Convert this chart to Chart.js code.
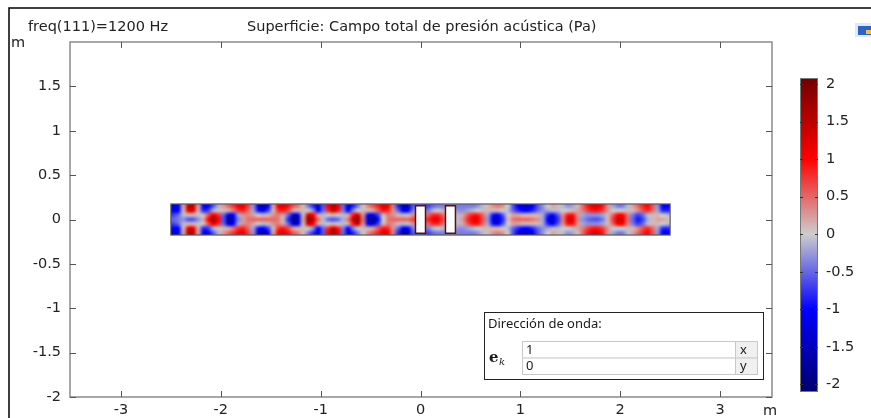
<!DOCTYPE html>
<html><head><meta charset="utf-8">
<script src="https://cdn.jsdelivr.net/npm/chart.js@4.4.1/dist/chart.umd.min.js"></script>
<style>html,body{margin:0;padding:0;background:#fff;overflow:hidden}</style>
</head><body>
<canvas id="c" width="871" height="418"></canvas>
<script>
// ---- data ----
const titleLeft = 'freq(111)=1200 Hz';
const titleMain = 'Superficie: Campo total de presión acústica (Pa)';
const xTicks = [-3, -2, -1, 0, 1, 2, 3];
const yTicks = [-2, -1.5, -1, -0.5, 0, 0.5, 1, 1.5];
const cbTicks = [-2, -1.5, -1, -0.5, 0, 0.5, 1, 1.5, 2];
const cbRange = [-2.1, 2.08];
const stripX = [-2.5, 2.5];
const stripY = [-0.175, 0.175];
const obstacleX = [[-0.05, 0.05], [0.25, 0.35]];
const obstacleY = [-0.155, 0.155];
const waveDirLabel = 'Dirección de onda:';
const waveDirValues = ['1', '0'];
const waveDirComps = ['x', 'y'];

// pressure (Pa) in 100 columns along the duct (x = -2.5 .. 2.5 m), rows from wall to centre
const rowEdge = [-1.3,-1.2,0.2,1.5,1.5,0.2,-1.0,-1.1,-0.6,-0.15,
 0.25,0.5,0.75,1.05,1.15,0.7,-0.3,-1.25,-1.6,-1.0,
 0.2,1.05,1.2,0.95,0.6,0.4,0.1,-0.4,-0.8,-1.3,
 -0.6,1.0,1.7,1.1,-0.5,-1.3,-0.85,-0.4,0.05,0.35,
 0.6,0.85,1.2,1.1,0.4,-0.8,-1.55,-1.5,-0.6,-0.5,
 -0.6,-0.7,-0.5,-0.4,-0.4,-0.3,-0.3,-0.4,-0.4,-0.4,
 -0.4,-0.3,-0.1,0.1,0.3,0.4,0.3,0.0,-0.6,-1.0,
 -1.3,-1.3,-1.0,-0.6,-0.3,0.0,0.2,0.1,-0.1,-0.3,
 -0.2,0.1,0.5,0.9,1.2,1.2,0.9,0.3,-0.2,-0.4,
 -0.4,-0.1,0.2,0.5,0.8,1.0,0.6,-0.3,-1.0,-1.0];
const rowNear = [-1.1,-1.0,0.1,1.2,1.2,0.15,-0.8,-0.7,-0.15,0.05,
 0.1,0.15,0.4,0.75,0.85,0.5,-0.2,-0.9,-1.2,-0.7,
 0.1,0.75,0.9,0.65,0.2,0.1,0.1,0.0,-0.3,-1.0,
 -0.5,0.8,1.4,0.9,-0.4,-1.0,-0.35,0.0,0.1,0.1,
 0.2,0.55,0.9,0.8,0.3,-0.5,-1.15,-1.1,-0.4,-0.3,
 -0.3,-0.4,-0.1,0.0,-0.1,-0.1,-0.1,-0.3,-0.3,-0.2,
 -0.1,0.0,0.1,0.1,0.1,0.1,0.0,-0.1,-0.5,-0.8,
 -1.0,-1.0,-0.8,-0.5,-0.3,-0.2,-0.1,-0.1,0.0,0.0,
 0.1,0.2,0.4,0.7,0.9,0.9,0.7,0.3,0.0,0.0,
 0.0,0.1,0.1,0.3,0.6,0.8,0.5,-0.2,-0.8,-0.8];
const rowMid = [-0.7,-0.5,-0.1,0.1,0.1,-0.05,0.05,0.6,1.2,0.8,
 -0.5,-1.3,-1.0,-0.2,0.3,0.35,0.2,0.0,-0.1,0.1,
 0.3,0.4,0.2,-0.5,-1.4,-1.2,0.1,1.4,1.0,0.2,
 -0.1,0.0,0.1,0.0,-0.1,0.15,0.9,1.4,0.3,-1.1,
 -1.4,-0.7,0.1,0.4,0.3,0.1,-0.1,-0.05,0.3,0.4,
 0.5,0.5,0.8,0.8,0.5,0.2,0.1,-0.1,0.2,0.6,
 0.9,0.9,0.5,-0.2,-0.9,-1.1,-0.6,0.0,0.2,0.2,
 0.1,0.1,0.1,0.1,-0.2,-0.8,-1.1,-0.6,0.3,0.9,
 0.9,0.3,-0.2,-0.3,-0.3,-0.3,-0.2,0.1,0.5,1.0,
 1.0,0.4,-0.4,-0.7,-0.5,-0.1,0.1,0.1,0.0,-0.1];
const rowCenter = [-0.5,-0.4,-0.3,-0.6,-0.6,-0.3,0.2,1.0,1.7,1.0,
 -0.6,-1.7,-1.4,-0.4,0.25,0.45,0.5,0.5,0.5,0.5,
 0.5,0.4,0.1,-0.8,-1.8,-1.5,0.2,1.8,1.5,0.5,
 -0.1,-0.5,-0.6,-0.5,-0.15,0.45,1.4,1.8,0.45,-1.4,
 -1.8,-1.0,0.0,0.4,0.5,0.5,0.5,0.5,0.7,0.8,
 0.8,0.8,1.1,1.1,0.7,0.3,0.1,-0.1,0.3,0.8,
 1.1,1.1,0.6,-0.3,-1.2,-1.4,-0.8,0.1,0.4,0.5,
 0.5,0.5,0.4,0.3,-0.2,-1.0,-1.4,-0.8,0.4,1.2,
 1.2,0.4,-0.3,-0.5,-0.6,-0.6,-0.4,0.1,0.7,1.3,
 1.3,0.5,-0.5,-0.9,-0.7,-0.2,0.1,0.2,0.2,0.1];
const fieldRows = [rowEdge, rowNear, rowMid, rowCenter, rowMid, rowNear, rowEdge]; // top wall -> bottom wall

// ---- style ----
const FONT = '"DejaVu Sans", sans-serif';
const colorStops = [[-2.1,[0,0,110]],[-1,[0,0,255]],[0,[205,205,205]],[1,[255,0,0]],[2.1,[110,0,0]]];
function rgbFor(v){
  const s = colorStops;
  if (v <= s[0][0]) return s[0][1];
  for (let k = 1; k < s.length; k++) {
    if (v <= s[k][0]) {
      const t = (v - s[k-1][0]) / (s[k][0] - s[k-1][0]);
      const a = s[k-1][1], b = s[k][1];
      return [0,1,2].map(j => Math.round(a[j] + (b[j]-a[j])*t));
    }
  }
  return s[s.length-1][1];
}
const colorFor = v => 'rgb(' + rgbFor(v).join(',') + ')';
const CB = {x: 800, y: 78, w: 18, h: 314};
const LEG = {x: 484, y: 312, w: 279, h: 67};

const comsol = {
  id: 'comsol',
  beforeDraw(chart){
    const c = chart.ctx;
    c.save(); c.fillStyle = '#fff'; c.fillRect(0,0,chart.width,chart.height); c.restore();
  },
  afterDraw(chart){
    const c = chart.ctx, xs = chart.scales.x, ys = chart.scales.y, A = chart.chartArea;
    c.save();
    // heat map: one texel per data cell, placed on the strip extent given by the scales
    const nCols = rowEdge.length, nRows = fieldRows.length;
    const off = document.createElement('canvas'); off.width = nCols; off.height = nRows;
    const octx = off.getContext('2d'); const img = octx.createImageData(nCols, nRows);
    for (let r = 0; r < nRows; r++) for (let i = 0; i < nCols; i++) {
      const col = rgbFor(fieldRows[r][i]), o = (r*nCols + i)*4;
      img.data[o] = col[0]; img.data[o+1] = col[1]; img.data[o+2] = col[2]; img.data[o+3] = 255;
    }
    octx.putImageData(img, 0, 0);
    const sx0 = xs.getPixelForValue(stripX[0]), sx1 = xs.getPixelForValue(stripX[1]);
    const sy0 = ys.getPixelForValue(stripY[1]), sy1 = ys.getPixelForValue(stripY[0]);
    c.imageSmoothingEnabled = true; c.imageSmoothingQuality = 'high';
    c.drawImage(off, sx0, sy0, sx1-sx0, sy1-sy0);
    // strip outline
    c.strokeStyle = '#5a5a5a'; c.lineWidth = 1.2;
    c.strokeRect(sx0, sy0, sx1-sx0, sy1-sy0);
    // obstacles
    obstacleX.forEach(o => {
      const a = xs.getPixelForValue(o[0]), b = xs.getPixelForValue(o[1]);
      const t = ys.getPixelForValue(obstacleY[1]), u = ys.getPixelForValue(obstacleY[0]);
      c.fillStyle = '#fff'; c.fillRect(a, t, b-a, u-t);
      c.strokeStyle = '#5c0d0d'; c.lineWidth = 1.5; c.strokeRect(a, t, b-a, u-t);
    });
    // axes box
    c.strokeStyle = '#8a8a8a'; c.lineWidth = 1.5;
    c.strokeRect(A.left, A.top, A.right-A.left, A.bottom-A.top);
    // inward ticks
    c.strokeStyle = '#555'; c.lineWidth = 1;
    c.beginPath();
    xTicks.forEach(v => {
      const p = Math.round(xs.getPixelForValue(v)) + 0.5;
      c.moveTo(p, A.top); c.lineTo(p, A.top+6);
      c.moveTo(p, A.bottom); c.lineTo(p, A.bottom-6);
    });
    yTicks.forEach(v => {
      const p = Math.round(ys.getPixelForValue(v)) + 0.5;
      c.moveTo(A.left, p); c.lineTo(A.left+6, p);
      c.moveTo(A.right, p); c.lineTo(A.right-6, p);
    });
    c.stroke();
    // titles & units
    c.fillStyle = '#222'; c.font = '14.5px ' + FONT; c.textBaseline = 'middle'; c.textAlign = 'left';
    c.fillText(titleLeft, 28, 27);
    c.fillText(titleMain, 247, 27);
    c.fillText('m', 11, 43);
    c.fillText('m', 763, 411);
    // colour bar
    for (let k = 0; k < CB.h; k++) {
      const v = cbRange[1] - (k+0.5)/CB.h*(cbRange[1]-cbRange[0]);
      c.fillStyle = colorFor(v); c.fillRect(CB.x, CB.y+k, CB.w, 1);
    }
    c.strokeStyle = '#777'; c.lineWidth = 1; c.strokeRect(CB.x+0.5, CB.y+0.5, CB.w-1, CB.h-1);
    const cbPix = v => CB.y + (cbRange[1]-v)/(cbRange[1]-cbRange[0])*CB.h;
    c.strokeStyle = '#333'; c.beginPath();
    cbTicks.forEach(v => {
      const p = Math.round(cbPix(v)) + 0.5;
      c.moveTo(CB.x, p); c.lineTo(CB.x+3, p);
      c.moveTo(CB.x+CB.w, p); c.lineTo(CB.x+CB.w-3, p);
    });
    c.stroke();
    c.fillStyle = '#222'; c.textAlign = 'left';
    cbTicks.forEach(v => c.fillText(String(v), CB.x+26, cbPix(v)));
    // wave direction box
    c.fillStyle = '#fff'; c.fillRect(LEG.x, LEG.y, LEG.w, LEG.h);
    c.strokeStyle = '#222'; c.lineWidth = 1; c.strokeRect(LEG.x+0.5, LEG.y+0.5, LEG.w, LEG.h);
    c.fillStyle = '#1a1a1a'; c.font = '13px "Noto Sans", sans-serif';
    c.fillText(waveDirLabel, LEG.x+4, LEG.y+12);
    const tx0 = 522, tx1 = 735, tx2 = 757, ty0 = 341, rh = 16.5;
    waveDirValues.forEach((val, k) => {
      const y = ty0 + k*rh;
      c.fillStyle = '#fff'; c.fillRect(tx0, y, tx1-tx0, rh);
      c.fillStyle = '#f0f0f0'; c.fillRect(tx1, y, tx2-tx1, rh);
      c.strokeStyle = '#c8c8c8'; c.strokeRect(tx0+0.5, y+0.5, tx1-tx0, rh);
      c.strokeRect(tx1+0.5, y+0.5, tx2-tx1, rh);
      c.fillStyle = '#1a1a1a';
      c.fillText(val, tx0+4, y+rh/2+1);
      c.fillText(waveDirComps[k], tx1+5, y+rh/2+1);
    });
    c.font = 'bold 15px "DejaVu Serif", serif'; c.fillText('e', 489, 358);
    c.font = 'italic 10px "DejaVu Serif", serif'; c.fillText('k', 499, 362);
    // outer frame
    c.strokeStyle = '#000'; c.lineWidth = 1.5;
    c.beginPath(); c.moveTo(9, 418); c.lineTo(9, 8); c.lineTo(871, 8); c.stroke();
    // corner icon
    c.fillStyle = '#dfe8f5'; c.fillRect(855, 23, 16, 14);
    c.fillStyle = '#2f62c0'; c.fillRect(858, 26, 13, 9);
    c.fillStyle = '#f2c230'; c.fillRect(866, 30, 5, 4);
    c.restore();
  }
};

Chart.defaults.font.family = FONT;
Chart.defaults.font.size = 14.5;
Chart.defaults.color = '#222';

new Chart(document.getElementById('c'), {
  type: 'scatter',
  data: {datasets: [{data: [], pointRadius: 0}]},
  options: {
    responsive: false, animation: false, devicePixelRatio: 1,
    layout: {padding: {left: 30, right: 99, top: 42, bottom: 0}},
    plugins: {legend: {display: false}, tooltip: {enabled: false}},
    scales: {
      x: {type: 'linear', min: -3.51, max: 3.52,
          afterBuildTicks: s => { s.ticks = xTicks.map(v => ({value: v})); },
          afterFit: s => { s.height = 21; },
          grid: {display: false, drawTicks: false, tickLength: 0}, border: {display: false},
          ticks: {padding: 5, maxRotation: 0, autoSkip: false, callback: v => String(v)}},
      y: {type: 'linear', min: -2, max: 2,
          afterBuildTicks: s => { s.ticks = yTicks.map(v => ({value: v})); },
          afterFit: s => { s.width = 40; },
          grid: {display: false, drawTicks: false, tickLength: 0}, border: {display: false},
          ticks: {padding: 9, autoSkip: false, callback: v => String(v)}}
    }
  },
  plugins: [comsol]
});
</script>
</body></html>
